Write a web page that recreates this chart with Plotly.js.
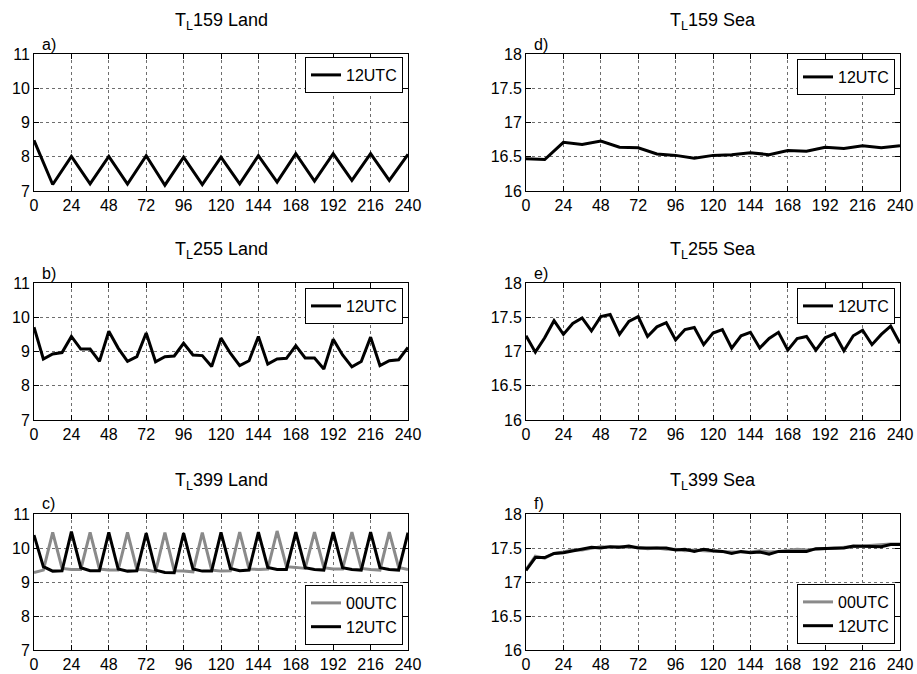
<!DOCTYPE html>
<html>
<head>
<meta charset="utf-8">
<script src="https://cdn.plot.ly/plotly-3.0.1.min.js"></script>
<style>html,body{margin:0;padding:0;background:#fff;}#chart{width:917px;height:674px;}</style>
</head>
<body>
<div id="chart"></div>
<script>
// ---------- DATA ----------
const xTicks = [0, 24, 48, 72, 96, 120, 144, 168, 192, 216, 240];
const hours12 = [0, 12, 24, 36, 48, 60, 72, 84, 96, 108, 120, 132, 144, 156, 168, 180, 192, 204, 216, 228, 240];
const hours6 = [0, 6, 12, 18, 24, 30, 36, 42, 48, 54, 60, 66, 72, 78, 84, 90, 96, 102, 108, 114, 120,
                126, 132, 138, 144, 150, 156, 162, 168, 174, 180, 186, 192, 198, 204, 210, 216, 222, 228, 234, 240];

const panelTitles = ["T<sub>L</sub>159 Land", "T<sub>L</sub>159 Sea", "T<sub>L</sub>255 Land",
                     "T<sub>L</sub>255 Sea", "T<sub>L</sub>399 Land", "T<sub>L</sub>399 Sea"];
const panelLetters = ["a)", "d)", "b)", "e)", "c)", "f)"];
const seriesNames = ["00UTC", "12UTC"];

// a) TL159 Land, 12UTC
const tl159Land12 = [8.48, 7.19, 8.01, 7.21, 8.01, 7.20, 8.03, 7.17, 7.99, 7.19, 7.99, 7.21, 8.03, 7.26,
                     8.09, 7.29, 8.09, 7.31, 8.09, 7.31, 8.07];
// d) TL159 Sea, 12UTC
const tl159Sea12 = [16.47, 16.46, 16.71, 16.68, 16.73, 16.64, 16.63, 16.54, 16.52, 16.48, 16.52, 16.53,
                    16.56, 16.53, 16.59, 16.58, 16.64, 16.62, 16.66, 16.63, 16.66];
// b) TL255 Land, 12UTC
const tl255Land12 = [9.71, 8.78, 8.93, 8.97, 9.44, 9.07, 9.07, 8.71, 9.59, 9.10, 8.71, 8.85, 9.54, 8.70,
                     8.85, 8.87, 9.24, 8.90, 8.88, 8.56, 9.39, 8.95, 8.59, 8.73, 9.44, 8.63, 8.78, 8.80,
                     9.17, 8.81, 8.81, 8.49, 9.36, 8.90, 8.55, 8.71, 9.42, 8.59, 8.73, 8.76, 9.12];
// e) TL255 Sea, 12UTC
const tl255Sea12 = [17.23, 16.99, 17.20, 17.45, 17.25, 17.41, 17.49, 17.30, 17.51, 17.54, 17.25, 17.44,
                    17.51, 17.22, 17.36, 17.42, 17.17, 17.32, 17.35, 17.10, 17.27, 17.32, 17.05, 17.23,
                    17.28, 17.05, 17.19, 17.28, 17.02, 17.19, 17.22, 17.02, 17.20, 17.26, 17.01, 17.23,
                    17.31, 17.10, 17.25, 17.37, 17.12];
// c) TL399 Land
const tl399Land00 = [9.28, 9.35, 10.46, 9.40, 9.37, 9.37, 10.46, 9.38, 9.35, 9.35, 10.46, 9.37, 9.35,
                     9.30, 10.45, 9.33, 9.32, 9.30, 10.45, 9.35, 9.32, 9.33, 10.47, 9.38, 9.37, 9.38,
                     10.50, 9.45, 9.43, 9.40, 10.47, 9.42, 9.38, 9.38, 10.47, 9.40, 9.37, 9.35, 10.47,
                     9.43, 9.37];
const tl399Land12 = [10.38, 9.45, 9.32, 9.33, 10.48, 9.42, 9.33, 9.33, 10.46, 9.38, 9.32, 9.33, 10.44,
                     9.35, 9.28, 9.27, 10.44, 9.38, 9.32, 9.32, 10.46, 9.40, 9.33, 9.35, 10.47, 9.43,
                     9.37, 9.37, 10.47, 9.42, 9.37, 9.35, 10.47, 9.42, 9.37, 9.35, 10.47, 9.42, 9.37,
                     9.35, 10.45];
// f) TL399 Sea
const tl399Sea00 = [17.18, 17.38, 17.35, 17.42, 17.44, 17.47, 17.47, 17.50, 17.52, 17.51, 17.52, 17.51,
                    17.51, 17.49, 17.50, 17.48, 17.48, 17.46, 17.47, 17.46, 17.45, 17.45, 17.44, 17.44,
                    17.44, 17.46, 17.44, 17.45, 17.47, 17.48, 17.47, 17.48, 17.50, 17.51, 17.52, 17.52,
                    17.54, 17.55, 17.56, 17.56, 17.56];
const tl399Sea12 = [17.17, 17.36, 17.36, 17.42, 17.43, 17.46, 17.48, 17.51, 17.50, 17.52, 17.51, 17.53,
                    17.50, 17.50, 17.49, 17.50, 17.47, 17.48, 17.45, 17.48, 17.46, 17.45, 17.42, 17.45,
                    17.43, 17.44, 17.41, 17.45, 17.45, 17.45, 17.45, 17.49, 17.49, 17.50, 17.50, 17.53,
                    17.53, 17.53, 17.52, 17.55, 17.55];

// ---------- LAYOUT HELPERS ----------
const W = 917, H = 674;
const FONT = "Liberation Sans, Arial, sans-serif";
const colX = [[34, 408], [526, 900]];
const rowY = [[54, 191], [283, 420], [514, 650]];
const px = v => v / W;
const py = v => 1 - v / H;

const BLACK = "#000000", GRAY = "#8a8a8a";

const traces = [];
function addLine(idx, x, y, name, color, legendId) {
  const s = idx === 0 ? "" : String(idx + 1);
  traces.push({
    type: "scatter", mode: "lines", x: x, y: y, name: name,
    xaxis: "x" + s, yaxis: "y" + s, legend: legendId, showlegend: true,
    line: { color: color, width: 3 }
  });
}
addLine(0, hours12, tl159Land12, seriesNames[1], BLACK, "legend");
addLine(1, hours12, tl159Sea12, seriesNames[1], BLACK, "legend2");
addLine(2, hours6, tl255Land12, seriesNames[1], BLACK, "legend3");
addLine(3, hours6, tl255Sea12, seriesNames[1], BLACK, "legend4");
addLine(4, hours6, tl399Land00, seriesNames[0], GRAY, "legend5");
addLine(4, hours6, tl399Land12, seriesNames[1], BLACK, "legend5");
addLine(5, hours6, tl399Sea00, seriesNames[0], GRAY, "legend6");
addLine(5, hours6, tl399Sea12, seriesNames[1], BLACK, "legend6");

const layout = {
  width: W, height: H,
  margin: { l: 0, r: 0, t: 0, b: 0 },
  paper_bgcolor: "#ffffff", plot_bgcolor: "#ffffff",
  font: { family: FONT, size: 16, color: "#000" },
  showlegend: true,
  annotations: []
};

const axisCommon = {
  showgrid: true, gridcolor: "#6e6e6e", griddash: "dot", gridwidth: 1,
  showline: true, linecolor: "#000", linewidth: 1, mirror: "ticks",
  ticks: "inside", ticklen: 5, tickcolor: "#000", tickwidth: 1,
  zeroline: false, fixedrange: true,
  tickfont: { family: FONT, size: 16, color: "#000" }
};

const legendPos = [
  { x: 403, y: 57, anchor: "top" },
  { x: 895, y: 59, anchor: "top" },
  { x: 403, y: 288, anchor: "top" },
  { x: 895, y: 288, anchor: "top" },
  { x: 403, y: 645, anchor: "bottom" },
  { x: 895, y: 644, anchor: "bottom" }
];

for (let i = 0; i < 6; i++) {
  const col = i % 2, row = Math.floor(i / 2);
  const s = i === 0 ? "" : String(i + 1);
  const isSea = col === 1;
  layout["xaxis" + s] = Object.assign({}, axisCommon, {
    domain: [px(colX[col][0]), px(colX[col][1])],
    anchor: "y" + s, range: [0, 240], tickmode: "array", tickvals: xTicks,
    ticktext: xTicks.map(String)
  });
  layout["yaxis" + s] = Object.assign({}, axisCommon, {
    domain: [py(rowY[row][1]), py(rowY[row][0])],
    anchor: "x" + s,
    range: isSea ? [16, 18] : [7, 11],
    tickmode: "linear", tick0: isSea ? 16 : 7, dtick: isSea ? 0.5 : 1
  });
  const lp = legendPos[i];
  layout[i === 0 ? "legend" : "legend" + (i + 1)] = {
    visible: true,
    x: px(lp.x), y: py(lp.y), xanchor: "right", yanchor: lp.anchor,
    xref: "paper", yref: "paper",
    bgcolor: "#ffffff", bordercolor: "#000", borderwidth: 1,
    font: { family: FONT, size: 16, color: "#000" },
    itemwidth: 30, tracegroupgap: 0
  };
  // title
  layout.annotations.push({
    text: panelTitles[i], xref: "paper", yref: "paper",
    x: px((colX[col][0] + colX[col][1]) / 2), y: py(rowY[row][0] - 33),
    xanchor: "center", yanchor: "middle", showarrow: false,
    font: { family: FONT, size: 18, color: "#000" }
  });
  // panel letter
  layout.annotations.push({
    text: panelLetters[i], xref: "paper", yref: "paper",
    x: px(colX[col][0] + 6), y: py(rowY[row][0] - 10),
    xanchor: "left", yanchor: "middle", showarrow: false,
    font: { family: FONT, size: 16, color: "#000" }
  });
}

Plotly.newPlot("chart", traces, layout, { displayModeBar: false, staticPlot: true });
</script>
</body>
</html>
